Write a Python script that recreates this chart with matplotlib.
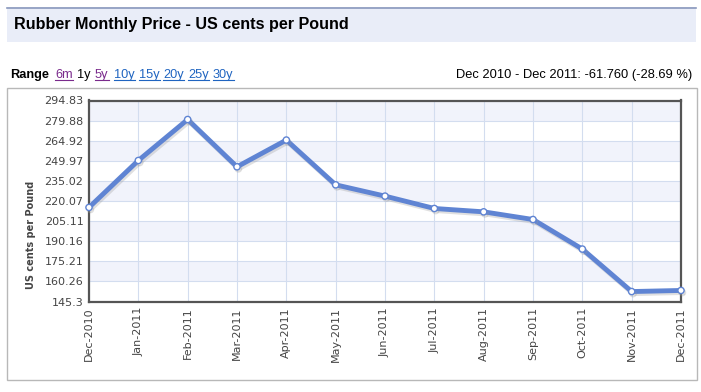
import matplotlib
matplotlib.use("Agg")
import matplotlib.pyplot as plt
import matplotlib.patheffects as pe
from matplotlib.patches import Rectangle
from matplotlib.lines import Line2D

# ====================== data ======================
months = ["Dec-2010", "Jan-2011", "Feb-2011", "Mar-2011", "Apr-2011", "May-2011",
          "Jun-2011", "Jul-2011", "Aug-2011", "Sep-2011", "Oct-2011", "Nov-2011",
          "Dec-2011"]
prices = [215.27, 250.2, 280.7, 245.5, 265.4, 232.1, 223.7, 214.5, 212.0,
          206.3, 184.3, 152.7, 153.51]
y_ticks = [145.3, 160.26, 175.21, 190.16, 205.11, 220.07, 235.02, 249.97,
           264.92, 279.88, 294.83]
y_tick_labels = ["145.3", "160.26", "175.21", "190.16", "205.11", "220.07",
                 "235.02", "249.97", "264.92", "279.88", "294.83"]
range_links = ["6m", "1y", "5y", "10y", "15y", "20y", "25y", "30y"]

W, H = 701, 392
fig = plt.figure(figsize=(W / 100, H / 100), dpi=100)
fig.patch.set_facecolor("white")


def px(x, y):
    # pixel coords (top-left origin) -> figure fraction
    return x / W, 1 - y / H


# ---- title band ----
fig.add_artist(Rectangle(px(7, 42), 689 / W, 35 / H, transform=fig.transFigure,
                         facecolor="#e9edf8", edgecolor="none", zorder=0))
fig.add_artist(Line2D([7 / W, 696 / W], [1 - 7.5 / H] * 2, transform=fig.transFigure,
                      color="#8a98bd", lw=1.2))
fig.text(*px(14, 25), "Rubber Monthly Price - US cents per Pound",
         family="Liberation Sans", weight="bold", fontsize=11.6, va="center", ha="left")

# ---- range row ----
fig.text(*px(10, 75), "Range", family="Liberation Sans", weight="bold",
         fontsize=9.2, va="center", ha="left")
link_x = [55, 77, 95, 114, 139, 163, 188, 213]
link_col = ["#7a2a8c", "black", "#7a2a8c", "#1f64c0", "#1f64c0", "#1f64c0",
            "#1f64c0", "#1f64c0"]
link_texts = []
for lbl, xx, cc in zip(range_links, link_x, link_col):
    t = fig.text(*px(xx, 75), lbl, family="Liberation Sans", fontsize=9.2,
                 va="center", ha="left", color=cc)
    link_texts.append((t, cc, lbl))
fig.text(*px(692, 75), "Dec 2010 - Dec 2011: -61.760 (-28.69 %)",
         family="Liberation Sans", fontsize=9.3, va="center", ha="right")

# ---- outer chart box ----
fig.add_artist(Rectangle(px(7, 380), 690 / W, 292 / H, transform=fig.transFigure,
                         facecolor="none", edgecolor="#b8b8b8", lw=1))

# ---- plot ----
ax = fig.add_axes([89 / W, 1 - 301.5 / H, 592 / W, 201 / H])
x = list(range(len(months)))

for i in range(len(y_ticks) - 1):
    if i % 2 == 1:
        ax.axhspan(y_ticks[i], y_ticks[i + 1], color="#f1f3fb", zorder=0, lw=0)

ax.set_xlim(0, len(months) - 1)
ax.set_ylim(y_ticks[0], y_ticks[-1])
ax.set_xticks(x)
ax.set_xticklabels(months, rotation=90, fontsize=8, color="#444444",
                   family="DejaVu Sans")
ax.set_yticks(y_ticks)
ax.set_yticklabels(y_tick_labels, fontsize=8, color="#444444", family="DejaVu Sans")
ax.tick_params(length=0, pad=4)
ax.grid(True, color="#d3ddef", lw=0.8, zorder=1)
for s in ax.spines.values():
    s.set_color("#555555")
    s.set_linewidth(1.6)

ax.plot(x, prices, color="#5f84d3", lw=3.5, zorder=3, solid_joinstyle="miter",
        path_effects=[pe.SimpleLineShadow(offset=(1, -1.5), shadow_color="#999999", alpha=0.3),
                      pe.Normal()],
        marker="o", markersize=4.5, markerfacecolor="white",
        markeredgecolor="#5f84d3", markeredgewidth=1, clip_on=False)

fig.text(*px(31, 235), "US cents per Pound", rotation=90, family="DejaVu Sans",
         weight="bold", fontsize=7, color="#444444", va="center", ha="center")

# underline links
fig.canvas.draw()
inv = fig.transFigure.inverted()
for t, cc, lbl in link_texts:
    if lbl == "1y":
        continue
    bb = t.get_window_extent()
    (x0, y0), (x1, y1) = inv.transform([(bb.x0, bb.y0 + 1), (bb.x1, bb.y0 + 1)])
    fig.add_artist(Line2D([x0, x1], [y0, y1], transform=fig.transFigure,
                          color=cc, lw=0.8))

fig.savefig("out.png", dpi=100)
